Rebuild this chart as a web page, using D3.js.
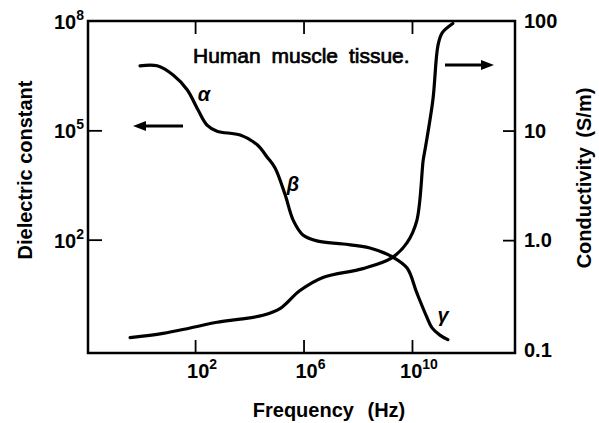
<!DOCTYPE html>
<html>
<head>
<meta charset="utf-8">
<script src="https://cdn.jsdelivr.net/npm/d3@7"></script>
<style>
body { margin: 0; background: #fff; }
text { font-family: "Liberation Sans", Arial, sans-serif; font-weight: bold; fill: #000; }
.tick line { stroke: #000; stroke-width: 1.8; }
</style>
</head>
<body>
<script>
var width = 599,
  height = 423;

// dielectric constant vs frequency (Hz)
var epsFreq = [0.93, 4, 15.5, 51, 129, 275, 646, 4.6e3, 1.95e4, 4.5e4, 8.9e4, 2.1e5, 4.1e5, 9.5e5, 3.4e6, 2.9e7, 2.8e8, 2.0e9, 6.6e9, 1.5e10, 3.5e10, 5.5e10, 1.07e11, 2.1e11];
var epsValue = [5.9e6, 5.9e6, 3.3e6, 1.3e6, 3.6e5, 1.4e5, 9.5e4, 7.4e4, 4.0e4, 1.86e4, 9.3e3, 1.7e3, 350, 135, 91, 76, 59, 33, 16.6, 3.5, 0.76, 0.38, 0.24, 0.18];

// conductivity (S/m) vs frequency (Hz)
var sigFreq = [0.4, 6.6, 66, 650, 4.6e3, 3.2e4, 1.35e5, 7.4e5, 5.2e6, 1.55e8, 1.8e9, 6.6e9, 1.5e10, 2.6e10, 3.0e10, 5.9e10, 9.1e10, 1.3e11, 3.2e11];
var sigValue = [0.129, 0.141, 0.158, 0.178, 0.19, 0.206, 0.237, 0.347, 0.457, 0.55, 0.69, 0.95, 1.5, 5.4, 6.6, 19, 60, 78, 95];

// tick labels
var freqTicks = [1e2, 1e6, 1e10];
var freqExp = ["2", "6", "10"];
var epsTicks = [1e8, 1e5, 1e2];
var epsExp = ["8", "5", "2"];
var sigTicks = [100, 10, 1, 0.1];
var sigLabels = ["100", "10", "1.0", "0.1"];

var box = { left: 88, right: 515, top: 21, bottom: 353 };

var svg = d3.select("body").append("svg")
  .attr("width", width)
  .attr("height", height);

var x = d3.scaleLog()
  .domain([Math.pow(10, -1.95), Math.pow(10, 13.8)])
  .range([box.left, box.right]);

var yEps = d3.scaleLog()
  .domain([Math.pow(10, -1.11), 1e8])
  .range([box.bottom, box.top]);

var ySig = d3.scaleLog()
  .domain([Math.pow(10, -1.03), 100])
  .range([box.bottom, box.top]);

// frame
svg.append("rect")
  .attr("x", box.left).attr("y", box.top)
  .attr("width", box.right - box.left)
  .attr("height", box.bottom - box.top)
  .attr("fill", "none")
  .attr("stroke", "#000")
  .attr("stroke-width", 2.5);

// inward ticks
function noDomain(g) { g.select(".domain").remove(); g.selectAll("text").remove(); }

svg.append("g")
  .attr("transform", "translate(0," + box.bottom + ")")
  .call(d3.axisBottom(x).tickValues(freqTicks).tickSize(-13).tickFormat(""))
  .call(noDomain);

svg.append("g")
  .attr("transform", "translate(0," + box.top + ")")
  .call(d3.axisTop(x).tickValues(freqTicks).tickSize(-13).tickFormat(""))
  .call(noDomain);

svg.append("g")
  .attr("transform", "translate(" + box.left + ",0)")
  .call(d3.axisLeft(yEps).tickValues([1e5, 1e2]).tickSize(-14).tickFormat(""))
  .call(noDomain);

svg.append("g")
  .attr("transform", "translate(" + box.right + ",0)")
  .call(d3.axisRight(ySig).tickValues([10, 1]).tickSize(-12).tickFormat(""))
  .call(noDomain);

// tick labels
var xl = svg.append("g").selectAll("text")
  .data(freqTicks)
  .enter().append("text")
  .attr("x", d => x(d) + 7)
  .attr("y", 378)
  .attr("text-anchor", "middle")
  .style("font-size", "20px");
xl.append("tspan").text("10");
xl.append("tspan").attr("dy", -9).style("font-size", "14px").text((d, i) => freqExp[i]);

var yl = svg.append("g").selectAll("text")
  .data(epsTicks)
  .enter().append("text")
  .attr("x", 84)
  .attr("y", d => yEps(d) + 8)
  .attr("text-anchor", "end")
  .style("font-size", "20px");
yl.append("tspan").text("10");
yl.append("tspan").attr("dy", -9).style("font-size", "14px").text((d, i) => epsExp[i]);

svg.append("g").selectAll("text")
  .data(sigTicks)
  .enter().append("text")
  .attr("x", 524)
  .attr("y", d => ySig(d) + 7)
  .style("font-size", "20px")
  .text((d, i) => sigLabels[i]);

// curves
var epsLine = d3.line()
  .x(d => x(d[0]))
  .y(d => yEps(d[1]))
  .curve(d3.curveCatmullRom.alpha(0.5));

var sigLine = d3.line()
  .x(d => x(d[0]))
  .y(d => ySig(d[1]))
  .curve(d3.curveCatmullRom.alpha(0.5));

svg.append("path")
  .datum(d3.zip(epsFreq, epsValue))
  .attr("d", epsLine)
  .attr("fill", "none")
  .attr("stroke", "#000")
  .attr("stroke-width", 3.2)
  .attr("stroke-linecap", "round");

svg.append("path")
  .datum(d3.zip(sigFreq, sigValue))
  .attr("d", sigLine)
  .attr("fill", "none")
  .attr("stroke", "#000")
  .attr("stroke-width", 3.2)
  .attr("stroke-linecap", "round");

// annotations
svg.append("text")
  .attr("x", 193).attr("y", 63)
  .style("font-size", "21px")
  .style("font-weight", "normal")
  .style("word-spacing", "5px")
  .style("stroke", "#000").style("stroke-width", 0.7)
  .text("Human muscle tissue.");

var greek = [["α", 204, 101], ["β", 293, 191], ["γ", 443, 322]];
svg.append("g").selectAll("text")
  .data(greek)
  .enter().append("text")
  .attr("x", d => d[1]).attr("y", d => d[2])
  .attr("text-anchor", "middle")
  .style("font-size", "20px")
  .style("font-style", "italic")
  .text(d => d[0]);

// arrows
svg.append("line")
  .attr("x1", 142).attr("x2", 183).attr("y1", 126).attr("y2", 126)
  .attr("stroke", "#000").attr("stroke-width", 3);
svg.append("path")
  .attr("d", "M133,126 L146,121 L146,131 Z");

svg.append("line")
  .attr("x1", 445).attr("x2", 484).attr("y1", 65).attr("y2", 65)
  .attr("stroke", "#000").attr("stroke-width", 3);
svg.append("path")
  .attr("d", "M494,65 L481,60 L481,70 Z");

// axis titles
svg.append("text")
  .attr("transform", "translate(32,170) rotate(-90)")
  .attr("text-anchor", "middle")
  .style("font-size", "20px")
  .text("Dielectric constant");

svg.append("text")
  .attr("transform", "translate(591,178) rotate(-90)")
  .attr("text-anchor", "middle")
  .style("font-size", "20px")
  .style("word-spacing", "4px")
  .text("Conductivity (S/m)");

svg.append("text")
  .attr("x", 329).attr("y", 417)
  .attr("text-anchor", "middle")
  .style("font-size", "20px")
  .style("word-spacing", "8px")
  .text("Frequency (Hz)");
</script>
</body>
</html>
